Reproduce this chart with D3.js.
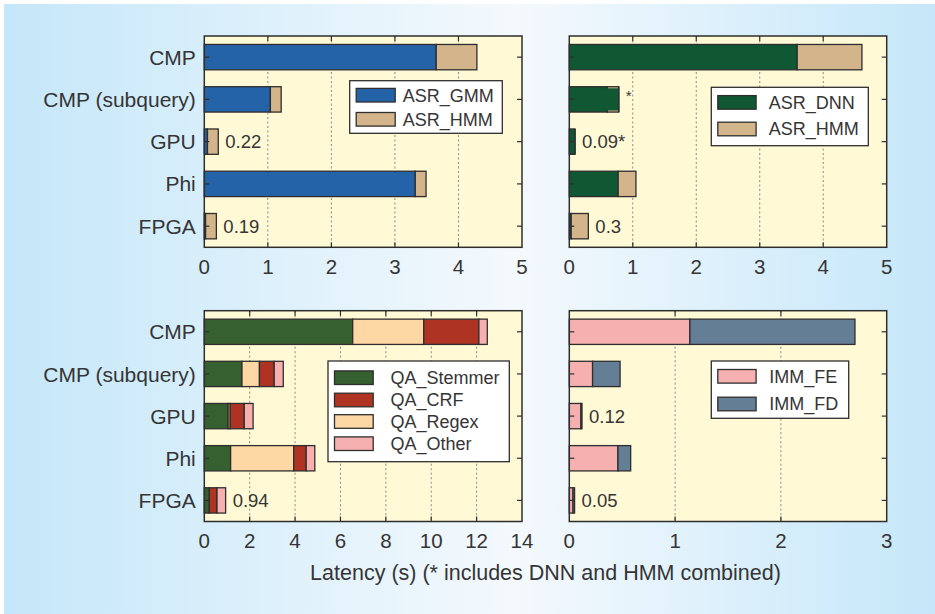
<!DOCTYPE html>
<html>
<head>
<meta charset="utf-8">
<script src="https://cdn.jsdelivr.net/npm/d3@7"></script>
<style>
  html, body { margin: 0; padding: 0; background: #ffffff; }
  svg { display: block; }
  text { font-family: "Liberation Sans", Arial, Helvetica, sans-serif; fill: #353535; }
</style>
</head>
<body>
<svg id="chart" width="935" height="614"></svg>
<script>
// ---------------- DATA ----------------
const categories = ["CMP", "CMP (subquery)", "GPU", "Phi", "FPGA"];

// Top-left: ASR (GMM)
const asrGmm     = [3.65, 1.04, 0.05, 3.32, 0.02];
const asrGmmHmm  = [0.64, 0.17, 0.17, 0.17, 0.17];
const asrGmmLabels = ["", "", "0.22", "", "0.19"];

// Top-right: ASR (DNN)
const asrDnn     = [3.59, 0.60, 0.09, 0.77, 0.03];
const asrDnnHmm  = [1.02, 0.18, 0.00, 0.28, 0.27];
const asrDnnCombined = [false, true, true, false, false];
const asrDnnLabels = ["", "*", "0.09*", "", "0.3"];

// Bottom-left: QA
const qaStemmer = [6.54, 1.66, 1.05, 1.16, 0.22];
const qaRegex   = [3.13, 0.77, 0.09, 2.78, 0.00];
const qaCrf     = [2.43, 0.65, 0.62, 0.55, 0.34];
const qaOther   = [0.37, 0.40, 0.39, 0.38, 0.38];
const qaLabels  = ["", "", "", "", "0.94"];

// Bottom-right: IMM
const immFe = [1.14, 0.22, 0.11, 0.46, 0.035];
const immFd = [1.56, 0.26, 0.01, 0.12, 0.015];
const immLabels = ["", "", "0.12", "", "0.05"];

const ticksAsr = [0, 1, 2, 3, 4, 5];
const ticksQa  = [0, 2, 4, 6, 8, 10, 12, 14];
const ticksImm = [0, 1, 2, 3];

const axisTitle = "Latency (s) (* includes DNN and HMM combined)";

// ---------------- STYLE ----------------
const colors = {
  ASR_GMM: "#2563a9",
  ASR_HMM: "#d3b48b",
  ASR_DNN: "#0f5833",
  QA_Stemmer: "#36602f",
  QA_CRF: "#ae3323",
  QA_Regex: "#fdd8a4",
  QA_Other: "#f6b0b0",
  IMM_FE: "#f6b0b0",
  IMM_FD: "#647e95"
};

const panels = [
  { x0: 204.3, x1: 522, y0: 36, y1: 247.3, ticks: ticksAsr, showCats: true,
    series: [{name: "ASR_GMM", values: asrGmm}, {name: "ASR_HMM", values: asrGmmHmm}],
    legendOrder: ["ASR_GMM", "ASR_HMM"], labels: asrGmmLabels,
    legend: {x: 349.7, y: 80.7, w: 152.6, h: 52.6, rowY: [95.2, 119.3], sw: 39, tx: 402.7} },
  { x0: 569.3, x1: 886.7, y0: 36, y1: 247.3, ticks: ticksAsr, showCats: false,
    series: [{name: "ASR_DNN", values: asrDnn}, {name: "ASR_HMM", values: asrDnnHmm}],
    legendOrder: ["ASR_DNN", "ASR_HMM"], labels: asrDnnLabels, combined: asrDnnCombined,
    legend: {x: 711.3, y: 87.3, w: 157, h: 58.4, rowY: [102.4, 129], sw: 38.3, tx: 768.7} },
  { x0: 204.3, x1: 522, y0: 310.7, y1: 521.5, ticks: ticksQa, showCats: true,
    series: [{name: "QA_Stemmer", values: qaStemmer}, {name: "QA_Regex", values: qaRegex},
             {name: "QA_CRF", values: qaCrf}, {name: "QA_Other", values: qaOther}],
    legendOrder: ["QA_Stemmer", "QA_CRF", "QA_Regex", "QA_Other"], labels: qaLabels,
    legend: {x: 328, y: 361, w: 181.3, h: 100.7, rowY: [377.7, 400, 421.5, 443.7], sw: 38.7, tx: 390.4} },
  { x0: 569.3, x1: 886.7, y0: 310.7, y1: 521.5, ticks: ticksImm, showCats: false,
    series: [{name: "IMM_FE", values: immFe}, {name: "IMM_FD", values: immFd}],
    legendOrder: ["IMM_FE", "IMM_FD"], labels: immLabels,
    legend: {x: 711.3, y: 361, w: 137.4, h: 57.3, rowY: [376.3, 404], sw: 38.3, tx: 769.3} }
];

const svg = d3.select("#chart");

// Background gradient
const defs = svg.append("defs");
const grad = defs.append("linearGradient").attr("id", "bg").attr("x1", "0").attr("x2", "1").attr("y1", "0").attr("y2", "0");
grad.append("stop").attr("offset", "0").attr("stop-color", "#c5e7f9");
grad.append("stop").attr("offset", "0.55").attr("stop-color", "#f4f9fd");
grad.append("stop").attr("offset", "1").attr("stop-color", "#c5e7f9");
svg.append("rect").attr("x", 4).attr("y", 4).attr("width", 931).attr("height", 610).attr("fill", "url(#bg)");

const strokeCol = "#2e2e2e";

panels.forEach(p => {
  const g = svg.append("g");
  const maxT = p.ticks[p.ticks.length - 1];
  const x = d3.scaleLinear().domain([0, maxT]).range([p.x0, p.x1]);
  const y = d3.scaleBand().domain(categories).range([p.y0, p.y1]).paddingInner(0.4).paddingOuter(0.2);

  // plot background
  g.append("rect").attr("x", p.x0).attr("y", p.y0).attr("width", p.x1 - p.x0).attr("height", p.y1 - p.y0)
    .attr("fill", "#fff9d6");

  // gridlines (dashed)
  g.selectAll("line.grid").data(p.ticks.slice(1, -1)).enter().append("line")
    .attr("x1", d => x(d)).attr("x2", d => x(d)).attr("y1", p.y0).attr("y2", p.y1)
    .attr("stroke", "#8a8a8a").attr("stroke-width", 1).attr("stroke-dasharray", "2,2.5");

  // stacked bars
  const stackData = categories.map((c, i) => {
    const o = {cat: c};
    p.series.forEach(s => o[s.name] = s.values[i]);
    return o;
  });
  const stacked = d3.stack().keys(p.series.map(s => s.name))(stackData);
  stacked.forEach(layer => {
    g.selectAll(null).data(layer.filter(d => d[1] - d[0] > 0)).enter().append("rect")
      .attr("x", d => x(d[0])).attr("y", d => y(d.data.cat))
      .attr("width", d => x(d[1]) - x(d[0])).attr("height", y.bandwidth())
      .attr("fill", colors[layer.key]).attr("stroke", strokeCol).attr("stroke-width", 1.3);
  });

  // combined (DNN+HMM) overlay
  if (p.combined) {
    categories.forEach((c, i) => {
      if (!p.combined[i]) return;
      const total = p.series.reduce((a, s) => a + s.values[i], 0);
      g.append("rect").attr("x", x(0)).attr("y", y(c) + 1.6)
        .attr("width", x(total) - x(0) - 0.7).attr("height", y.bandwidth() - 3.2)
        .attr("fill", colors[p.series[0].name]);
      g.append("line").attr("x1", x(total)).attr("x2", x(total)).attr("y1", y(c)).attr("y2", y(c) + y.bandwidth())
        .attr("stroke", strokeCol).attr("stroke-width", 1.3);
    });
  }

  // value labels
  categories.forEach((c, i) => {
    const lab = p.labels[i];
    if (!lab) return;
    const total = p.series.reduce((a, s) => a + s.values[i], 0);
    const t = g.append("text").attr("x", x(total) + 7).attr("y", y(c) + y.bandwidth() / 2)
      .attr("font-size", lab === "*" ? 15 : 18.5).text(lab);
    if (lab === "*") t.attr("dy", "0.1em"); else t.attr("dy", "0.36em");
  });

  // frame
  g.append("rect").attr("x", p.x0).attr("y", p.y0).attr("width", p.x1 - p.x0).attr("height", p.y1 - p.y0)
    .attr("fill", "none").attr("stroke", strokeCol).attr("stroke-width", 1.5);

  // inner ticks on x (top and bottom)
  const tl = 5;
  p.ticks.slice(1, -1).forEach(t => {
    g.append("line").attr("x1", x(t)).attr("x2", x(t)).attr("y1", p.y0).attr("y2", p.y0 + tl)
      .attr("stroke", strokeCol).attr("stroke-width", 1.2);
    g.append("line").attr("x1", x(t)).attr("x2", x(t)).attr("y1", p.y1).attr("y2", p.y1 - tl)
      .attr("stroke", strokeCol).attr("stroke-width", 1.2);
  });
  // inner ticks on y (left and right)
  categories.forEach(c => {
    const cy = y(c) + y.bandwidth() / 2;
    g.append("line").attr("x1", p.x0).attr("x2", p.x0 + tl).attr("y1", cy).attr("y2", cy)
      .attr("stroke", strokeCol).attr("stroke-width", 1.2);
    g.append("line").attr("x1", p.x1).attr("x2", p.x1 - tl).attr("y1", cy).attr("y2", cy)
      .attr("stroke", strokeCol).attr("stroke-width", 1.2);
  });

  // x tick labels
  g.selectAll(null).data(p.ticks).enter().append("text")
    .attr("x", d => x(d)).attr("y", p.y1 + 19.5).attr("dy", "0.36em")
    .attr("text-anchor", "middle").attr("font-size", 20.5).text(d => d);

  // category labels
  if (p.showCats) {
    g.selectAll(null).data(categories).enter().append("text")
      .attr("x", p.x0 - 8.5).attr("y", d => y(d) + y.bandwidth() / 2).attr("dy", "0.36em")
      .attr("text-anchor", "end").attr("font-size", 21).text(d => d);
  }

  // legend
  const L = p.legend;
  g.append("rect").attr("x", L.x).attr("y", L.y).attr("width", L.w).attr("height", L.h)
    .attr("fill", "#ffffff").attr("stroke", strokeCol).attr("stroke-width", 1.3);
  p.legendOrder.forEach((name, k) => {
    const cy = L.rowY[k];
    g.append("rect").attr("x", L.x + 6.5).attr("y", cy - 6.8).attr("width", L.sw).attr("height", 13.6)
      .attr("fill", colors[name]).attr("stroke", strokeCol).attr("stroke-width", 1.3);
    g.append("text").attr("x", L.tx).attr("y", cy).attr("dy", "0.36em").attr("font-size", 18).text(name);
  });
});

// axis title
svg.append("text").attr("x", 545.5).attr("y", 580).attr("text-anchor", "middle")
  .attr("font-size", 21.5).text(axisTitle);
</script>
</body>
</html>
